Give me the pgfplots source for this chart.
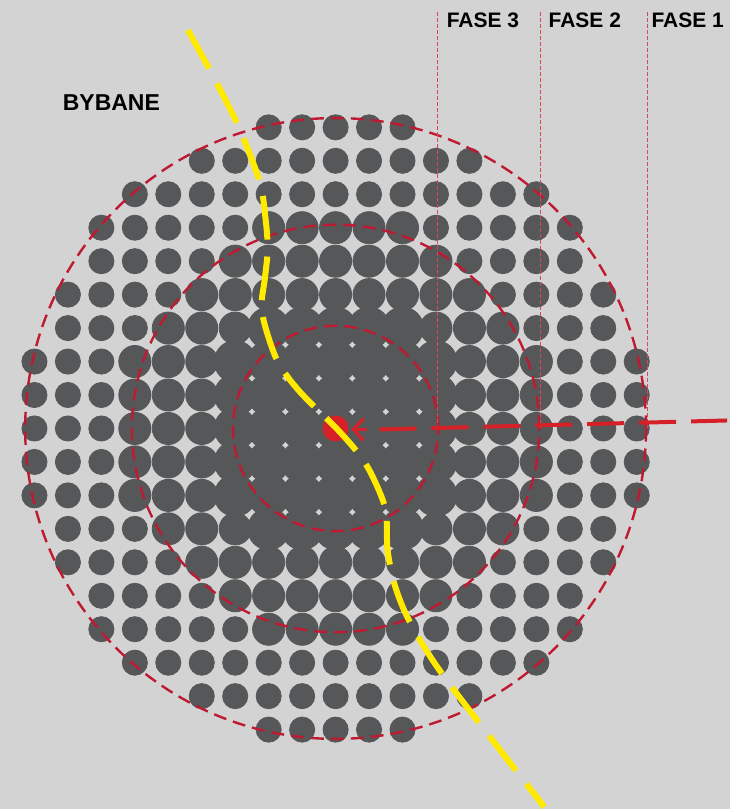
\documentclass[border=0pt]{standalone}
\usepackage{pgfplots}
\pgfplotsset{compat=1.18}
\usepackage{fontspec}
\setmainfont{Liberation Sans}
\definecolor{bg}{RGB}{211,211,211}
\definecolor{dotc}{RGB}{85,87,89}
\definecolor{ring}{RGB}{190,26,50}
\definecolor{redline}{RGB}{214,32,40}
\definecolor{phase}{RGB}{218,70,90}
\definecolor{ylw}{RGB}{255,234,0}
\begin{document}
\begin{tikzpicture}
\fill[bg] (0,0) rectangle (365.5pt,405pt);
\begin{axis}[at={(0,0)}, anchor=south west, scale only axis,
  width=365.5pt, height=405pt,
  xmin=-10.0299, xmax=11.7910, ymin=-11.3731, ymax=12.8060,
  axis line style={draw=none}, ticks=none, clip=false, set layers=standard]
% small dots (outer ring)
\addplot[only marks, mark=*, color=dotc, mark size=6.3pt] coordinates {
(-2,9)(-1,9)(0,9)(1,9)(2,9)
(-4,8)(-3,8)(-2,8)(-1,8)(0,8)(1,8)(2,8)(3,8)(4,8)
(-6,7)(-5,7)(-4,7)(-3,7)(-2,7)(-1,7)(0,7)(1,7)(2,7)(3,7)(4,7)(5,7)(6,7)
(-7,6)(-6,6)(-5,6)(-4,6)(-3,6)(3,6)(4,6)(5,6)(6,6)(7,6)
(-7,5)(-6,5)(-5,5)(-4,5)(4,5)(5,5)(6,5)(7,5)
(-8,4)(-7,4)(-6,4)(-5,4)(5,4)(6,4)(7,4)(8,4)
(-8,3)(-7,3)(-6,3)(6,3)(7,3)(8,3)
(-9,2)(-8,2)(-7,2)(7,2)(8,2)(9,2)
(-9,1)(-8,1)(-7,1)(7,1)(8,1)(9,1)
(-9,0)(-8,0)(-7,0)(7,0)(8,0)(9,0)
(-9,-1)(-8,-1)(-7,-1)(7,-1)(8,-1)(9,-1)
(-9,-2)(-8,-2)(-7,-2)(7,-2)(8,-2)(9,-2)
(-8,-3)(-7,-3)(-6,-3)(6,-3)(7,-3)(8,-3)
(-8,-4)(-7,-4)(-6,-4)(-5,-4)(5,-4)(6,-4)(7,-4)(8,-4)
(-7,-5)(-6,-5)(-5,-5)(-4,-5)(4,-5)(5,-5)(6,-5)(7,-5)
(-7,-6)(-6,-6)(-5,-6)(-4,-6)(-3,-6)(3,-6)(4,-6)(5,-6)(6,-6)(7,-6)
(-6,-7)(-5,-7)(-4,-7)(-3,-7)(-2,-7)(-1,-7)(0,-7)(1,-7)(2,-7)(3,-7)(4,-7)(5,-7)(6,-7)
(-4,-8)(-3,-8)(-2,-8)(-1,-8)(0,-8)(1,-8)(2,-8)(3,-8)(4,-8)
(-2,-9)(-1,-9)(0,-9)(1,-9)(2,-9)
};
% medium dots (middle ring)
\addplot[only marks, mark=*, color=dotc, mark size=8.05pt] coordinates {
(-2,6)(-1,6)(0,6)(1,6)(2,6)
(-3,5)(-2,5)(-1,5)(0,5)(1,5)(2,5)(3,5)
(-4,4)(-3,4)(-2,4)(-1,4)(0,4)(1,4)(2,4)(3,4)(4,4)
(-5,3)(-4,3)(-3,3)(3,3)(4,3)(5,3)
(-6,2)(-5,2)(-4,2)(4,2)(5,2)(6,2)
(-6,1)(-5,1)(-4,1)(4,1)(5,1)(6,1)
(-6,0)(-5,0)(-4,0)(4,0)(5,0)(6,0)
(-6,-1)(-5,-1)(-4,-1)(4,-1)(5,-1)(6,-1)
(-6,-2)(-5,-2)(-4,-2)(4,-2)(5,-2)(6,-2)
(-5,-3)(-4,-3)(-3,-3)(3,-3)(4,-3)(5,-3)
(-4,-4)(-3,-4)(-2,-4)(-1,-4)(0,-4)(1,-4)(2,-4)(3,-4)(4,-4)
(-3,-5)(-2,-5)(-1,-5)(0,-5)(1,-5)(2,-5)(3,-5)
(-2,-6)(-1,-6)(0,-6)(1,-6)(2,-6)
};
% large dots (inner zone)
\addplot[only marks, mark=*, color=dotc, mark size=10.5pt] coordinates {
(-2,3)(-1,3)(0,3)(1,3)(2,3)
(-3,2)(-2,2)(-1,2)(0,2)(1,2)(2,2)(3,2)
(-3,1)(-2,1)(-1,1)(0,1)(1,1)(2,1)(3,1)
(-3,0)(-2,0)(-1,0)(0,0)(1,0)(2,0)(3,0)
(-3,-1)(-2,-1)(-1,-1)(0,-1)(1,-1)(2,-1)(3,-1)
(-3,-2)(-2,-2)(-1,-2)(0,-2)(1,-2)(2,-2)(3,-2)
(-2,-3)(-1,-3)(0,-3)(1,-3)(2,-3)
};
% dashed rings (drawn as open circle marks, after the dots)
\addplot[only marks, mark=o, mark size=155.4pt, mark options={ring, line width=1.2pt, dash pattern=on 6.5pt off 3.5pt}] coordinates {(0,0)};
\addplot[only marks, mark=o, mark size=102pt, mark options={ring, line width=1.2pt, dash pattern=on 6.5pt off 3.5pt}] coordinates {(0,0)};
\addplot[only marks, mark=o, mark size=51.4pt, mark options={ring, line width=1.2pt, dash pattern=on 6.5pt off 3.5pt}] coordinates {(0,0)};
% red centre dot
\addplot[only marks, mark=*, color=redline, mark size=6.3pt] coordinates {(0,0)};
% phase lines
\addplot[on layer=axis foreground, phase, line width=0.6pt, dash pattern=on 2pt off 1pt] coordinates {(3.045,12.448)(3.045,0)};
\addplot[on layer=axis foreground, phase, line width=0.6pt, dash pattern=on 2pt off 1pt] coordinates {(6.119,12.448)(6.119,0)};
\addplot[on layer=axis foreground, phase, line width=0.6pt, dash pattern=on 2pt off 1pt] coordinates {(9.313,12.448)(9.313,0)};
% red line
\addplot[on layer=axis foreground, redline, line width=2pt, dash pattern=on 18.5pt off 7.5pt] coordinates {(1.313,-0.030)(11.701,0.239)};
\addplot[on layer=axis foreground, redline, line width=1.6pt] coordinates {(0.836,0.299)(0.537,-0.030)(0.836,-0.358)};
\addplot[on layer=axis foreground, redline, line width=1.6pt] coordinates {(0.537,-0.030)(0.93,-0.030)};
% yellow line
\addplot[on layer=axis foreground, ylw, line width=3pt, smooth, tension=0.5, dash pattern=on 22pt off 8.5pt] coordinates {
(-4.418,11.910)(-3.761,10.716)(-2.925,9.075)(-2.269,7.373)(-2.090,6.239)(-2.030,5.343)
(-2.119,4.448)(-2.209,3.761)(-2.119,3.104)(-1.731,2.0)(-1.075,1.104)(0,0.030)
(0.657,-0.716)(1.075,-1.373)(1.493,-2.418)(1.552,-3.612)(1.761,-4.657)(2.209,-5.761)
(3.254,-7.433)(6.239,-11.313)};
% labels
\node[font=\bfseries\fontsize{11.5}{13}\selectfont] at (axis cs:-6.701,9.731) {BYBANE};
\node[font=\bfseries\fontsize{10.5}{12}\selectfont] at (axis cs:4.403,12.209) {FASE 3};
\node[font=\bfseries\fontsize{10.5}{12}\selectfont] at (axis cs:7.448,12.209) {FASE 2};
\node[font=\bfseries\fontsize{10.5}{12}\selectfont] at (axis cs:10.522,12.209) {FASE 1};
\end{axis}
\end{tikzpicture}
\end{document}
